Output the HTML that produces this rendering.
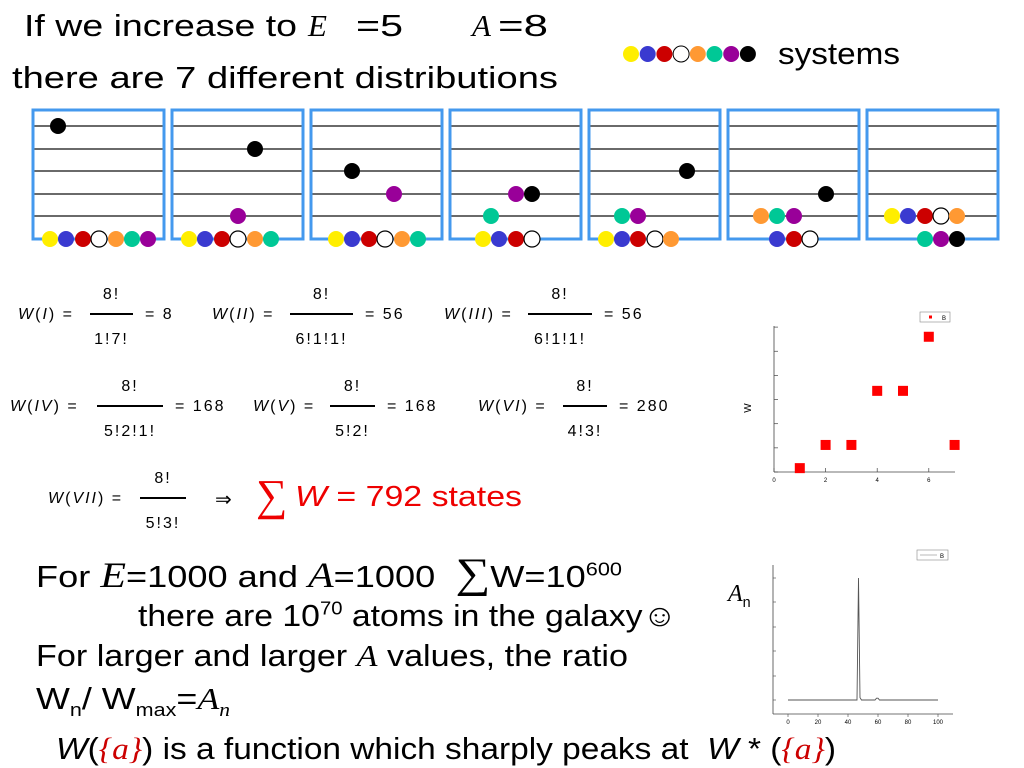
<!DOCTYPE html>
<html><head><meta charset="utf-8">
<style>
body{margin:0;background:#fff;}
#s{position:relative;width:1024px;height:768px;overflow:hidden;font-family:"Liberation Sans",sans-serif;color:#000;}
.t{position:absolute;white-space:nowrap;line-height:1;transform-origin:0 0;}
.big{font-size:31px;}
.eq{font-size:16px;letter-spacing:2px;}
.sc{font-family:"Liberation Serif",serif;font-style:italic;}
.fl{position:absolute;height:1.5px;background:#000;}
sup,sub{font-size:60%;line-height:0;}
</style></head><body>
<div id="s">
<div class="t big" style="left:24px;top:10px" data-w="273">If we increase to</div>
<div class="t big" style="left:308px;top:10px"><span class="sc">E</span></div>
<div class="t big" style="left:356px;top:10px" data-w="47">=5</div>
<div class="t big" style="left:472px;top:10px"><span class="sc">A</span></div>
<div class="t big" style="left:498px;top:10px" data-w="50">=8</div>
<div class="t big" style="left:12px;top:62px" data-w="546">there are 7 different distributions</div>
<div class="t big" style="left:778px;top:38px" data-w="122">systems</div>
<svg id="boxes" width="1024" height="260" style="position:absolute;left:0;top:0"></svg>

<div id="eqs"></div>

<div class="t" style="left:256px;top:474px;font-size:44px;color:#e00;font-family:'Liberation Serif',serif">∑</div>
<div class="t" style="left:295px;top:483px;font-size:29px;color:#e00" data-w="227"><i>W</i> = 792 states</div>
<div class="t" style="left:215px;top:490px;font-size:20px">⇒</div>

<div class="t big" style="left:36px;top:553px" data-w="586">For <span class="sc" style="font-size:36px">E</span>=1000 and <span class="sc" style="font-size:36px">A</span>=1000 &nbsp;<span style="font-family:'Liberation Serif',serif;font-size:42px;vertical-align:0px">∑</span>W=10<sup>600</sup></div>
<div class="t big" style="left:138px;top:600px" data-w="539">there are 10<sup>70</sup> atoms in the galaxy☺</div>
<div class="t big" style="left:36px;top:640px" data-w="592">For larger and larger <span class="sc">A</span> values, the ratio</div>
<div class="t big" style="left:36px;top:683px" data-w="194">W<sub>n</sub>/ W<sub>max</sub>=<span class="sc">A<sub>n</sub></span></div>
<div class="t big" style="left:56px;top:733px" data-w="780"><i>W</i>(<span class="sc" style="color:#c00">{a}</span>) is a function which sharply peaks at &nbsp;<i>W</i> * (<span class="sc" style="color:#c00">{a}</span>)</div>

<div class="t" style="left:728px;top:582px;font-size:24px"><span class="sc">A</span><sub style="font-family:'Liberation Sans'">n</sub></div>
<svg id="sc1" width="1024" height="768" style="position:absolute;left:0;top:0"></svg>
</div>
<script>
// ---- scatter data ----
const distLabels=[1,2,3,4,5,6,7];
const wValues=[8,56,56,168,168,280,56];
const xTicks=[0,2,4,6];
// ---- line data (An vs n) ----
const nValues=[0,10,20,30,40,45,46,47,48,49,55,58,59,60,61,65,70,80,90,100];
const anValues=[0,0,0,0,0,0,0,1,0.02,0,0,0,0.015,0.015,0,0,0,0,0,0];
const nTicks=[0,20,40,60,80,100];

const NS='http://www.w3.org/2000/svg';
function mk(p,tag,a){const e=document.createElementNS(NS,tag);for(const k in a)e.setAttribute(k,a[k]);p.appendChild(e);return e;}

document.querySelectorAll('[data-w]').forEach(el=>{const w=el.getBoundingClientRect().width;const t=+el.getAttribute('data-w');el.style.transform='scaleX('+(t/w)+')';});

const B=document.getElementById('boxes');
const boxX=[33,172,311,450,589,728,867];
const cols={y:'#ffee00',b:'#3a3ad0',r:'#cc0000',w:'#fff',o:'#ff9933',g:'#00c896',p:'#990099',k:'#000'};
const balls=[
 [[58,126,'k'],[50,239,'y'],[66,239,'b'],[83,239,'r'],[99,239,'w'],[116,239,'o'],[132,239,'g'],[148,239,'p']],
 [[255,149,'k'],[238,216,'p'],[189,239,'y'],[205,239,'b'],[222,239,'r'],[238,239,'w'],[255,239,'o'],[271,239,'g']],
 [[352,171,'k'],[394,194,'p'],[336,239,'y'],[352,239,'b'],[369,239,'r'],[385,239,'w'],[402,239,'o'],[418,239,'g']],
 [[516,194,'p'],[532,194,'k'],[491,216,'g'],[483,239,'y'],[499,239,'b'],[516,239,'r'],[532,239,'w']],
 [[687,171,'k'],[622,216,'g'],[638,216,'p'],[606,239,'y'],[622,239,'b'],[638,239,'r'],[655,239,'w'],[671,239,'o']],
 [[826,194,'k'],[761,216,'o'],[777,216,'g'],[794,216,'p'],[777,239,'b'],[794,239,'r'],[810,239,'w']],
 [[892,216,'y'],[908,216,'b'],[925,216,'r'],[941,216,'w'],[957,216,'o'],[925,239,'g'],[941,239,'p'],[957,239,'k']]
];
boxX.forEach((x,i)=>{
  [126,149,171,194,216].forEach(y=>{const l=mk(B,'line',{x1:x,x2:x+131,y1:y,y2:y,stroke:'#111','stroke-width':1.3});});
  const r=mk(B,'rect',{x:x,y:110,width:131,height:129,fill:'none',stroke:'#4499ee','stroke-width':3});
  
  balls[i].forEach(b=>{const c=mk(B,'circle',{cx:b[0],cy:b[1],r:8,fill:cols[b[2]],stroke:b[2]=='w'?'#000':'none','stroke-width':1.2});});
});
'ybrwogpk'.split('').forEach((c,i)=>{const e=mk(B,'circle',{cx:631+i*16.7,cy:54,r:8,fill:cols[c],stroke:c=='w'?'#000':'none'});});

const E=document.getElementById('eqs');
function txt(x,y,h,name){const d=document.createElement('div');d.className='t eq';d.style.left=x+'px';d.style.top=(y-9)+'px';d.innerHTML=h;E.appendChild(d);return d;}
function frac(lbl,x0,l1,l2,num,den,res,cy,name){
  txt(x0,cy,lbl+' =',name+'-lhs');
  const f=document.createElement('div');f.className='fl';f.style.left=l1+'px';f.style.top=(cy-3)+'px';f.style.width=(l2-l1)+'px';
  E.appendChild(f);
  const c=(l1+l2)/2;
  const n=txt(c,cy-20,num,name+'-num');n.style.transform='translateX(-50%)';
  const d=txt(c,cy+25,den,name+'-den');d.style.transform='translateX(-50%)';
  if(res)txt(l2+12,cy,'= '+res,name+'-result');
}
frac('<i>W</i>(<i>I</i>)',18,90,133,'8!','1!7!','8',316,'eq-w1');
frac('<i>W</i>(<i>II</i>)',212,290,353,'8!','6!1!1!','56',316,'eq-w2');
frac('<i>W</i>(<i>III</i>)',444,528,592,'8!','6!1!1!','56',316,'eq-w3');
frac('<i>W</i>(<i>IV</i>)',10,97,163,'8!','5!2!1!','168',408,'eq-w4');
frac('<i>W</i>(<i>V</i>)',253,330,375,'8!','5!2!','168',408,'eq-w5');
frac('<i>W</i>(<i>VI</i>)',478,563,607,'8!','4!3!','280',408,'eq-w6');
frac('<i>W</i>(<i>VII</i>)',48,140,186,'8!','5!3!','',500,'eq-w7');

const S=document.getElementById('sc1');
const sx=v=>774+v*25.8, sy=v=>472-v*0.483;
const g=mk(S,'g',{});
mk(g,'line',{x1:774,x2:955,y1:472,y2:472,stroke:'#444','stroke-width':0.8});
mk(g,'line',{x1:774,x2:774,y1:326,y2:472,stroke:'#444','stroke-width':0.8});
[0,50,100,150,200,250,300].forEach(v=>mk(g,'line',{x1:774,x2:778,y1:sy(v),y2:sy(v),stroke:'#444','stroke-width':0.7}));
xTicks.forEach(v=>{mk(g,'line',{x1:sx(v),x2:sx(v),y1:472,y2:468,stroke:'#444','stroke-width':0.7});const t=mk(g,'text',{x:sx(v),y:482,'font-size':6,'text-anchor':'middle','font-family':'Liberation Sans'});t.textContent=v;});
const yl=mk(g,'text',{x:751,y:408,'font-size':10,'text-anchor':'middle','font-family':'Liberation Sans',transform:'rotate(-90 751 408)'});yl.textContent='W';

distLabels.forEach((d,i)=>{const r=mk(g,'rect',{x:sx(d)-5,y:sy(wValues[i])-5,width:10,height:10,fill:'#f00'});});
const lg=mk(g,'rect',{x:920,y:312,width:30,height:10,fill:'#fff',stroke:'#888','stroke-width':0.6});
mk(g,'rect',{x:929,y:315.5,width:3,height:3,fill:'#f00'});
const lt=mk(g,'text',{x:942,y:320,'font-size':6,'font-family':'Liberation Sans'});lt.textContent='B';

const lx=v=>788+v*1.5, ly=v=>700-v*122;
mk(S,'line',{x1:773,x2:953,y1:714,y2:714,stroke:'#444','stroke-width':0.8});
mk(S,'line',{x1:773,x2:773,y1:565,y2:714,stroke:'#444','stroke-width':0.8});
[578,602,627,651,676,700].forEach(y=>mk(S,'line',{x1:773,x2:776,y1:y,y2:y,stroke:'#444','stroke-width':0.6}));
nTicks.forEach(v=>{mk(S,'line',{x1:lx(v),x2:lx(v),y1:714,y2:717,stroke:'#444','stroke-width':0.6});const t=mk(S,'text',{x:lx(v),y:724,'font-size':6,'text-anchor':'middle','font-family':'Liberation Sans'});t.textContent=v;});
const pl=mk(S,'polyline',{points:nValues.map((n,i)=>lx(n)+','+ly(anValues[i])).join(' '),fill:'none',stroke:'#555','stroke-width':0.9});

const lg2=mk(S,'rect',{x:917,y:550,width:31,height:10,fill:'#fff',stroke:'#888','stroke-width':0.6});
mk(S,'line',{x1:920,x2:937,y1:555,y2:555,stroke:'#777','stroke-width':0.6});
const lt2=mk(S,'text',{x:940,y:558,'font-size':6,'font-family':'Liberation Sans'});lt2.textContent='B';
</script>
</body></html>
